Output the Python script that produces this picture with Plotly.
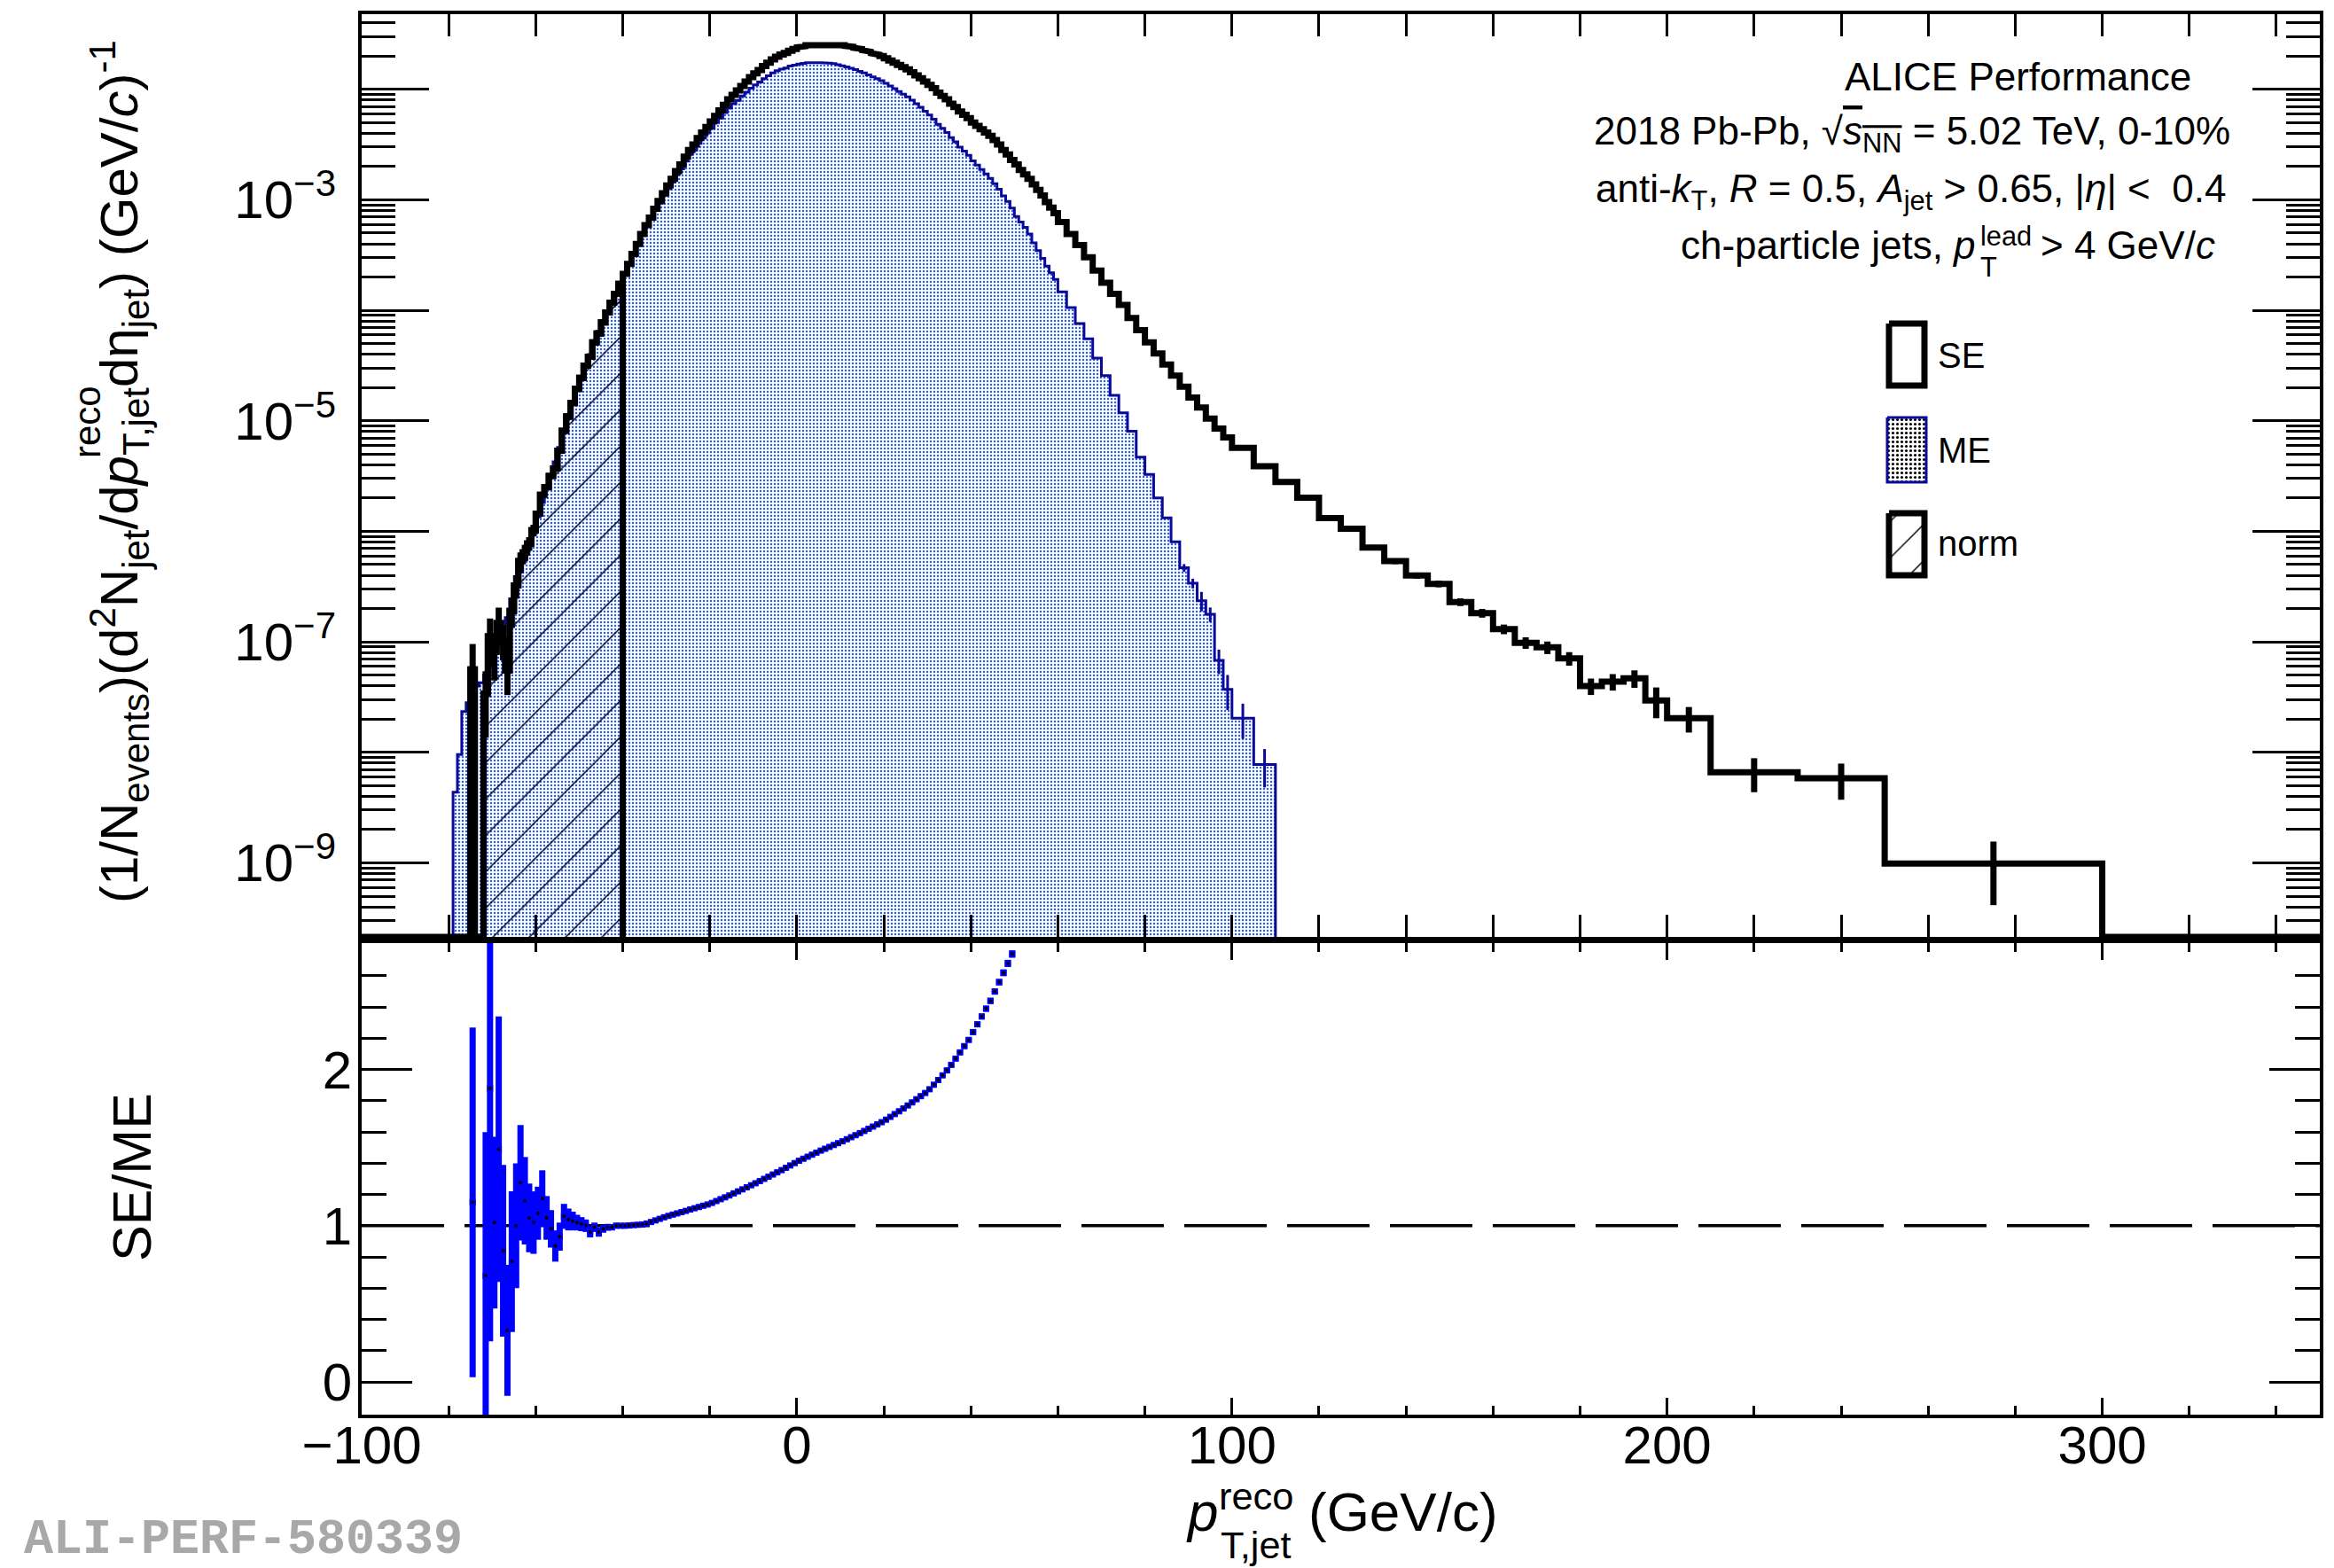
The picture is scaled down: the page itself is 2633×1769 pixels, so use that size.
import plotly.graph_objects as go

# ---------------- data ----------------
# bin edges in GeV/c: one empty bin below -80, 1 GeV bins to 60, 2 GeV to 100,
# 5 GeV to 200, then coarse bins in the tail
edges = ([-100] + list(range(-80, 60)) + list(range(60, 100, 2))
         + list(range(100, 200, 5)) + [200, 210, 230, 250, 300, 350])

# same-event (SE) spectrum, log10 of per-bin yield (None = empty bin)
se_log10_fine = [
    None, None, None, None, None, -7.25, None, None, -7.47, -6.95,
    -7.09, -6.83, -6.98, -7.26, -6.72, -6.49, -6.27, -6.19, -6.11, -5.99,
    -5.84, -5.67, -5.60, -5.50, -5.43, -5.27, -5.09, -4.96, -4.84, -4.71,
    -4.61, -4.50, -4.42, -4.29, -4.21, -4.11, -4.02, -3.93, -3.85, -3.76,
    -3.67, -3.58, -3.49, -3.40, -3.31, -3.23, -3.16, -3.08, -3.01, -2.94,
    -2.87, -2.81, -2.74, -2.68, -2.61, -2.55, -2.50, -2.44, -2.39, -2.34,
    -2.29, -2.24, -2.19, -2.14, -2.09, -2.05, -2.01, -1.97, -1.93, -1.89,
    -1.855, -1.825, -1.79, -1.76, -1.73, -1.705, -1.685, -1.67, -1.65, -1.635,
    -1.62, -1.61, -1.60, -1.595, -1.59, -1.588, -1.587, -1.587, -1.589, -1.594,
    -1.60, -1.607, -1.615, -1.624, -1.635, -1.646, -1.66, -1.673, -1.687, -1.70,
    -1.72, -1.74, -1.76, -1.78, -1.80, -1.82, -1.846, -1.873, -1.90, -1.93,
    -1.96, -1.99, -2.03, -2.06, -2.09, -2.13, -2.16, -2.20, -2.23, -2.26,
    -2.30, -2.33, -2.36, -2.39, -2.42, -2.46, -2.50, -2.55, -2.59, -2.64,
    -2.68, -2.73, -2.77, -2.81, -2.86, -2.91, -2.96, -3.02, -3.07, -3.12,
]
se_log10_2gev = [-3.20, -3.31, -3.41, -3.52, -3.64, -3.75, -3.85, -3.95, -4.07, -4.18,
                 -4.29, -4.39, -4.49, -4.59, -4.69, -4.79, -4.88, -4.98, -5.07, -5.15]
se_log10_5gev = [-5.245, -5.41, -5.553, -5.696, -5.881, -5.976, -6.147, -6.27, -6.40, -6.475,
                 -6.64, -6.74, -6.885, -7.008, -7.05, -7.15, -7.40, -7.36, -7.33, -7.53]
se_log10_wide = [-7.69, -8.18, -8.235, -9.006, None]

# mixed-event (ME) spectrum
me_log10_fine = [
    None, -8.36, -8.02, -7.63, -7.55, -7.31, -7.40, -7.37, -7.30, -7.22,
    -7.10, -7.00, -6.90, -6.78, -6.61, -6.49, -6.37, -6.25, -6.13, -6.00,
    -5.87, -5.74, -5.62, -5.49, -5.37, -5.24, -5.11, -4.98, -4.85, -4.72,
    -4.61, -4.50, -4.40, -4.29, -4.19, -4.10, -4.02, -3.93, -3.85, -3.76,
    -3.67, -3.58, -3.49, -3.40, -3.31, -3.24, -3.17, -3.095, -3.03, -2.96,
    -2.90, -2.84, -2.77, -2.72, -2.65, -2.59, -2.55, -2.49, -2.44, -2.395,
    -2.35, -2.30, -2.26, -2.21, -2.17, -2.13, -2.10, -2.06, -2.025, -1.99,
    -1.96, -1.934, -1.903, -1.878, -1.852, -1.832, -1.817, -1.807, -1.79, -1.781,
    -1.771, -1.765, -1.759, -1.758, -1.757, -1.759, -1.761, -1.763, -1.768, -1.778,
    -1.788, -1.798, -1.81, -1.822, -1.837, -1.852, -1.87, -1.887, -1.904, -1.921,
    -1.945, -1.97, -1.994, -2.019, -2.044, -2.068, -2.099, -2.131, -2.163, -2.198,
    -2.233, -2.27, -2.317, -2.353, -2.39, -2.437, -2.475, -2.523, -2.56, -2.598,
    -2.647, -2.686, -2.726, -2.765, -2.805, -2.854, -2.904, -2.964, -3.014, -3.074,
    -3.15, -3.20, -3.25, -3.31, -3.39, -3.46, -3.53, -3.60, -3.66, -3.72,
]
me_log10_2gev = [-3.832, -3.975, -4.119, -4.257, -4.433, -4.59, -4.77, -4.927, -5.094, -5.328,
                 -5.484, -5.697, -5.878, -6.094, -6.33, -6.47, -6.627, -6.75, -7.167, -7.43]
me_log10_5gev = [-7.69, -8.11] + [None] * 18
me_log10_wide = [None] * 5

# statistical uncertainties (relative)
se_rel_err_low = [0.7, 0, 0, 0.6, 0.45, 0.45, 0.38, 0.35, 0.4, 0.3, 0.24, 0.2, 0.17, 0.14, 0.12]  # bins -75..-60
se_rel_err_5gev = [0.03, 0.03, 0.035, 0.04, 0.045, 0.05, 0.055, 0.06, 0.065, 0.07,
                   0.08, 0.09, 0.10, 0.12, 0.13, 0.14, 0.17, 0.17, 0.18, 0.31]
se_rel_err_wide = [0.26, 0.34, 0.36, 0.58, 0]
me_rel_err_high = [0.08, 0.10, 0.20, 0.15, 0.25, 0.35, 0.35, 0.38]  # bins 88-90 ... 105-110

# SE/ME ratio, 1 GeV bins centred at -74.5 ... 49.5
ratio = [
    1.15, None, None, 0.68, 1.88, 1.02, 1.49, 0.84, 0.33, 0.77,
    1.00, 1.275, 1.16, 1.05, 1.02, 1.08, 1.175, 1.05, 0.98, 0.87,
    0.93, 1.06, 1.04, 1.03, 1.02, 1.01, 1.00, 0.96, 0.99, 0.96,
    0.98, 0.99, 0.99, 1.00, 1.00,
    1.000, 1.002, 1.004, 1.006, 1.008, 1.014, 1.024, 1.034, 1.044, 1.054,
    1.063, 1.071, 1.079, 1.087, 1.095, 1.104, 1.112, 1.120, 1.128, 1.136,
    1.146, 1.158, 1.170, 1.182, 1.194, 1.207, 1.220, 1.233, 1.246, 1.259,
    1.272, 1.286, 1.300, 1.314, 1.328, 1.342, 1.356, 1.371, 1.386, 1.401,
    1.416, 1.429, 1.442, 1.455, 1.468, 1.481, 1.493, 1.505, 1.517, 1.529,
    1.541, 1.554, 1.567, 1.580, 1.593, 1.607, 1.621, 1.635, 1.649, 1.663,
    1.679, 1.697, 1.715, 1.733, 1.751, 1.770, 1.790, 1.810, 1.830, 1.850,
    1.874, 1.903, 1.933, 1.963, 1.995, 2.03, 2.07, 2.11, 2.15, 2.19,
    2.24, 2.29, 2.34, 2.39, 2.44, 2.50, 2.56, 2.62, 2.68, 2.74,
]
ratio_err = [
    1.12, 0, 0, 0.92, 1.62, 0.55, 0.85, 0.55, 0.42, 0.45,
    0.40, 0.37, 0.28, 0.22, 0.20, 0.17, 0.18, 0.14, 0.12, 0.10,
    0.09, 0.08, 0.07, 0.06, 0.05, 0.045, 0.04, 0.035, 0.03, 0.03,
    0.025, 0.022, 0.02, 0.018, 0.016,
    0.016, 0.016, 0.015, 0.015, 0.015, 0.014, 0.014, 0.014, 0.013, 0.013,
    0.013, 0.013, 0.013, 0.013, 0.013, 0.013, 0.013, 0.013, 0.013, 0.013,
    0.013, 0.013, 0.013, 0.013, 0.013, 0.013, 0.013, 0.013, 0.013, 0.013,
    0.013, 0.013, 0.013, 0.013, 0.013, 0.013, 0.013, 0.013, 0.013, 0.013,
    0.013, 0.013, 0.013, 0.013, 0.013, 0.013, 0.013, 0.013, 0.013, 0.013,
    0.013, 0.013, 0.013, 0.013, 0.013, 0.013, 0.013, 0.013, 0.013, 0.013,
    0.013, 0.013, 0.013, 0.013, 0.014, 0.014, 0.014, 0.014, 0.014, 0.014,
    0.015, 0.015, 0.015, 0.015, 0.016, 0.016, 0.016, 0.017, 0.017, 0.017,
    0.018, 0.018, 0.019, 0.019, 0.020, 0.020, 0.021, 0.022, 0.023, 0.024,
]
ratio_first_center = -74.5

NORM_LO, NORM_HI = -75, -40          # normalisation window
X_RANGE = [-100, 350]
LOG_RANGE = [-9.67, -1.32]
R_RANGE = [-0.21, 2.81]

# ---------------- helpers ----------------
def to_val(lst):
    return [None if v is None else 10 ** v for v in lst]

se = to_val([None] + se_log10_fine + se_log10_2gev + se_log10_5gev + se_log10_wide)
me = to_val([None] + me_log10_fine + me_log10_2gev + me_log10_5gev + me_log10_wide)
centers = [(a + b) / 2 for a, b in zip(edges[:-1], edges[1:])]
floor = 10 ** LOG_RANGE[0]


def step_path(e, vals):
    xs, ys = [e[0]], [floor]
    for i, v in enumerate(vals):
        y = floor if v is None else v
        xs += [e[i], e[i + 1]]
        ys += [y, y]
    xs.append(e[-1])
    ys.append(floor)
    return xs, ys


FONT = "Liberation Sans, Arial, Helvetica, sans-serif"
W, H = 2633, 1769
ML, MR, MT, MB = 408, 16, 16, 173
PW, PH = W - ML - MR, H - MT - MB


def px(X):
    return (X - ML) / PW


def py(Y):
    return (H - MB - Y) / PH


fig = go.Figure()

# ---- ME: dotted fill + outline (only over its populated range) ----
me_nz = [i for i, v in enumerate(me) if v is not None]
m0, m1 = me_nz[0], me_nz[-1]
mx, my = step_path(edges[m0:m1 + 2], me[m0:m1 + 1])
fig.add_trace(go.Scatter(
    x=mx, y=my, mode="lines", fill="toself", fillcolor="rgba(0,0,0,0)",
    fillpattern=dict(shape=".", fgcolor="#2a5cff", size=4, solidity=0.3, fillmode="replace"),
    line=dict(color="#0a0a9a", width=3), xaxis="x", yaxis="y", showlegend=False))

# ---- normalisation window: hatched part of SE ----
norm_idx = [i for i, c in enumerate(centers) if NORM_LO < c < NORM_HI]
n_edges = edges[norm_idx[0]:norm_idx[-1] + 2]
n_vals = [se[i] for i in norm_idx]
nx, ny = step_path(n_edges, n_vals)
fig.add_trace(go.Scatter(
    x=nx, y=ny, mode="lines", fill="toself", fillcolor="rgba(0,0,0,0)",
    fillpattern=dict(shape="/", fgcolor="black", size=29, solidity=0.05, fillmode="replace"),
    line=dict(color="black", width=7), xaxis="x", yaxis="y", showlegend=False))

# ---- SE outline ----
sx, sy = step_path(edges, se)
fig.add_trace(go.Scatter(x=sx, y=sy, mode="lines", line=dict(color="black", width=7),
                         xaxis="x", yaxis="y", showlegend=False))

# ---- SE error bars ----
n_fine_start = 1 + 5  # bin index of [-75,-74]
err_x, err_y, err_v = [], [], []
for k, r in enumerate(se_rel_err_low):
    i = n_fine_start + k
    if r > 0 and se[i] is not None:
        err_x.append(centers[i]); err_y.append(se[i]); err_v.append(r * se[i])
first_5 = 1 + 140 + 20
for k, r in enumerate(se_rel_err_5gev + se_rel_err_wide):
    i = first_5 + k
    if r > 0 and se[i] is not None:
        err_x.append(centers[i]); err_y.append(se[i]); err_v.append(r * se[i])
fig.add_trace(go.Scatter(
    x=err_x, y=err_y, mode="markers", marker=dict(size=1, color="rgba(0,0,0,0)"),
    error_y=dict(type="data", array=err_v, thickness=7, width=0, color="black"),
    xaxis="x", yaxis="y", showlegend=False))

# ---- ME error bars (high tail) ----
me_first = 1 + 140 + 14  # bin 88-90
me_ex, me_ey, me_ev = [], [], []
for k, r in enumerate(me_rel_err_high):
    i = me_first + k
    if me[i] is not None:
        me_ex.append(centers[i]); me_ey.append(me[i]); me_ev.append(r * me[i])
fig.add_trace(go.Scatter(
    x=me_ex, y=me_ey, mode="markers", marker=dict(size=1, color="rgba(0,0,0,0)"),
    error_y=dict(type="data", array=me_ev, thickness=3, width=0, color="#0a0a9a"),
    xaxis="x", yaxis="y", showlegend=False))

# ---- ratio panel ----
fig.add_trace(go.Scatter(x=X_RANGE, y=[1, 1], mode="lines",
                         line=dict(color="black", width=3.5, dash="93px,23px"),
                         xaxis="x2", yaxis="y2", showlegend=False))
rx = [ratio_first_center + k for k in range(len(ratio))]
rxs = [x for x, v in zip(rx, ratio) if v is not None]
rys = [v for v in ratio if v is not None]
res = [e for e, v in zip(ratio_err, ratio) if v is not None]
fig.add_trace(go.Scatter(
    x=rxs, y=rys, mode="markers", marker=dict(size=7, color="#0000ff", symbol="square"),
    error_y=dict(type="data", array=res, thickness=7, width=0, color="#0000ff"),
    xaxis="x2", yaxis="y2", showlegend=False, cliponaxis=True))
fig.add_trace(go.Scatter(
    x=rxs, y=rys, mode="markers", marker=dict(size=4, color="black", symbol="circle"),
    xaxis="x2", yaxis="y2", showlegend=False, cliponaxis=True))

# ---- legend swatches (pixel-space helper axes) ----
def box(x0, x1, y0, y1):
    return [x0, x1, x1, x0, x0], [y0, y0, y1, y1, y0]

bx, by = box(2131, 2171, 365, 435)
fig.add_trace(go.Scatter(x=bx, y=by, mode="lines", line=dict(color="black", width=7),
                         xaxis="x3", yaxis="y3", showlegend=False))
bx, by = box(2129, 2173, 471, 544)
fig.add_trace(go.Scatter(x=bx, y=by, mode="lines", fill="toself", fillcolor="rgba(0,0,0,0)",
                         fillpattern=dict(shape=".", fgcolor="black", size=5, solidity=0.3,
                                          fillmode="replace"),
                         line=dict(color="#0a0a9a", width=3), xaxis="x3", yaxis="y3",
                         showlegend=False))
bx, by = box(2131, 2171, 579, 649)
fig.add_trace(go.Scatter(x=bx, y=by, mode="lines", fill="toself", fillcolor="rgba(0,0,0,0)",
                         fillpattern=dict(shape="/", fgcolor="black", size=29, solidity=0.05,
                                          fillmode="replace"),
                         line=dict(color="black", width=7), xaxis="x3", yaxis="y3",
                         showlegend=False))

# ---------------- axes ----------------
TICKFONT = dict(family=FONT, size=60, color="black")
top_dom = [py(1057), 1.0]
bot_dom = [0.0, py(1064)]

x_major = [-100, 0, 100, 200, 300]
x_minor = [v for v in range(-80, 351, 20) if v % 100 != 0]

# labelled decades on the main log axis, unlabelled decades on an overlay axis
log_labelled = [10.0 ** e for e in (-9, -7, -5, -3)]
log_text = ["10<sup>\u2212%d</sup>" % (-e) for e in (-9, -7, -5, -3)]
log_unlabelled = [10.0 ** e for e in (-10, -8, -6, -4, -2)]
log_minor = [m * 10.0 ** e for e in range(-10, -1) for m in range(2, 10)]

axis_common = dict(showline=True, linewidth=4, linecolor="black", mirror="allticks",
                   showgrid=False, zeroline=False, ticks="inside", tickcolor="black",
                   tickwidth=3)

layout = dict(
    width=W, height=H,
    margin=dict(l=ML, r=MR, t=MT, b=MB),
    paper_bgcolor="white", plot_bgcolor="rgba(0,0,0,0)",
    showlegend=False,
    font=dict(family=FONT, color="black"),
    xaxis=dict(domain=[0, 1], range=X_RANGE, anchor="y", tickmode="array", tickvals=x_major,
               ticklen=25, showticklabels=False,
               minor=dict(tickmode="array", tickvals=x_minor, ticklen=13, tickwidth=3,
                          ticks="inside", tickcolor="black"),
               **axis_common),
    yaxis=dict(domain=top_dom, type="log", range=LOG_RANGE, anchor="x", tickmode="array",
               tickvals=log_labelled, ticktext=log_text, ticklen=76, tickfont=TICKFONT,
               ticklabelstandoff=13,
               minor=dict(tickmode="array", tickvals=log_minor, ticklen=38, tickwidth=3,
                          ticks="inside", tickcolor="black"),
               **axis_common),
    yaxis4=dict(type="log", range=LOG_RANGE, anchor="x", overlaying="y", side="left",
                tickmode="array", tickvals=log_unlabelled, ticklen=76, showticklabels=False,
                **axis_common),
    xaxis2=dict(domain=[0, 1], range=X_RANGE, anchor="y2", tickmode="array", tickvals=x_major,
                ticktext=["\u2212100", "0", "100", "200", "300"], ticklen=19,
                tickfont=TICKFONT, ticklabelstandoff=-21,
                minor=dict(tickmode="array", tickvals=x_minor, ticklen=10, tickwidth=3,
                           ticks="inside", tickcolor="black"),
                **axis_common),
    yaxis2=dict(domain=bot_dom, range=R_RANGE, anchor="x2", tickmode="array",
                tickvals=[0, 1, 2], ticklen=57, tickfont=TICKFONT, ticklabelstandoff=-5,
                minor=dict(tickmode="array",
                           tickvals=[0.2, 0.4, 0.6, 0.8, 1.2, 1.4, 1.6, 1.8, 2.2, 2.4, 2.6],
                           ticklen=28, tickwidth=3, ticks="inside", tickcolor="black"),
                **axis_common),
    xaxis3=dict(domain=[0, 1], range=[ML, W - MR], anchor="y3", visible=False),
    yaxis3=dict(domain=[0, 1], range=[H - MB, MT], anchor="x3", visible=False),
)
fig.update_layout(**layout)

# an invisible point so the overlay log axis is drawn
fig.add_trace(go.Scatter(x=[X_RANGE[0]], y=[floor], mode="markers",
                         marker=dict(size=1, color="rgba(0,0,0,0)"),
                         xaxis="x", yaxis="y4", showlegend=False, hoverinfo="skip"))

# ---------------- text ----------------
def note(text, X, Y, size, xanchor="center", angle=0, color="black", family=FONT):
    fig.add_annotation(text=text, x=px(X), y=py(Y), xref="paper", yref="paper",
                       showarrow=False, xanchor=xanchor, yanchor="middle", textangle=angle,
                       font=dict(family=family, size=size, color=color))

note("ALICE Performance", 2276, 86, 44)
note("2018 Pb-Pb, \u221a<span style='text-decoration:overline'><i>s</i><sub>NN</sub></span>"
     " = 5.02 TeV, 0-10%", 2157, 151, 44)
note("anti-<i>k</i><sub>T</sub>, <i>R</i> = 0.5, <i>A</i><sub>jet</sub> &gt; 0.65, "
     "|<i>\u03b7</i>| &lt;  0.4", 2155, 216, 44)
# fourth line: sub- and superscript of p stacked on top of each other
note("ch-particle jets, <i>p</i>", 1894, 276, 44, xanchor="left")
note("<sup>lead</sup>", 2232, 267, 44, xanchor="left")
note("<sub>T</sub>", 2232, 302, 44, xanchor="left")
note("&gt; 4 GeV/<i>c</i>", 2300, 276, 44, xanchor="left")

note("SE", 2184, 401, 40, xanchor="left")
note("ME", 2184, 508, 40, xanchor="left")
note("norm", 2184, 613, 40, xanchor="left")

# y title of the spectrum panel (reco stacked above T,jet)
note("(1/N<sub>events</sub>)(d<sup>2</sup>N<sub>jet</sub>/d<i>p</i><sub>T,jet</sub>"
     "d\u03b7<sub>jet</sub>) (GeV/<i>c</i>)<sup>-1</sup>", 134, 532, 60, angle=-90)
note("<sup>reco</sup>", 98, 476, 60, angle=-90)
note("SE/ME", 149, 1328, 61, angle=-90)
# x title (reco stacked above T,jet)
note("<i>p</i>", 1336, 1706, 62, xanchor="left")
note("<sup>reco</sup>", 1373, 1688, 62, xanchor="left")
note("<sub>T,jet</sub>", 1375, 1743, 62, xanchor="left")
note("(GeV/c)", 1474, 1706, 62, xanchor="left")
note("<b>ALI-PERF-580339</b>", 25, 1737, 55, xanchor="left", color="#a8a8a8",
     family="Liberation Mono, Courier New, monospace")

fig.write_html("out.html")
